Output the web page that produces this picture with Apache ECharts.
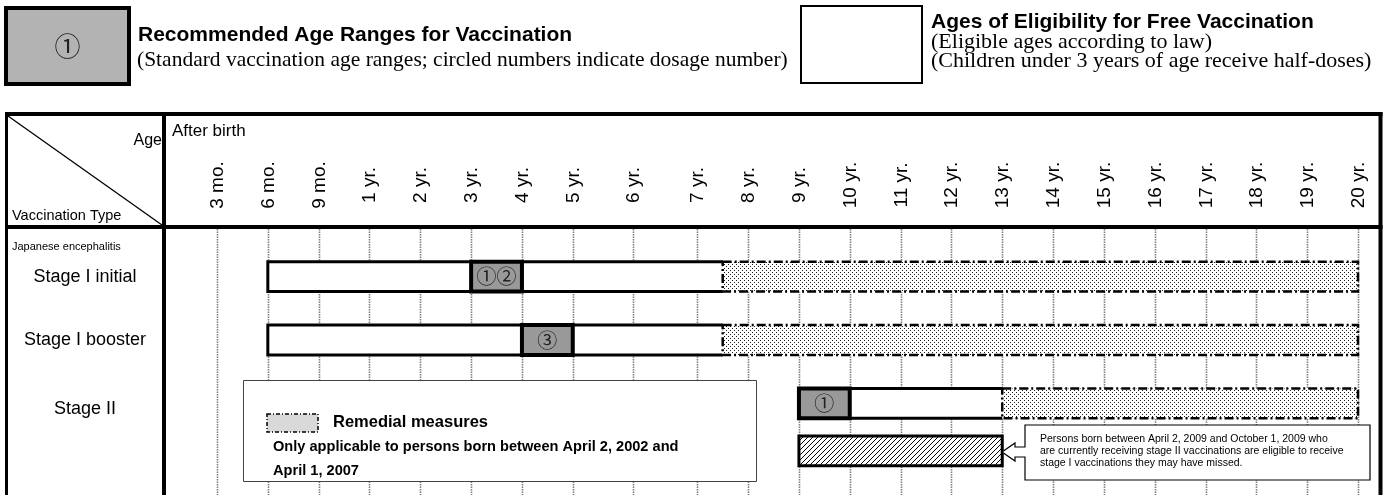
<!DOCTYPE html>
<html><head><meta charset="utf-8">
<script src="https://cdn.jsdelivr.net/npm/echarts@6/dist/echarts.min.js"></script>
<style>html,body{margin:0;padding:0;background:#fff}#c{width:1389px;height:495px}</style>
</head><body><div id="c"></div>
<script>
// ---------------- data ----------------
const ageLabels = ['3 mo.','6 mo.','9 mo.','1 yr.','2 yr.','3 yr.','4 yr.','5 yr.','6 yr.','7 yr.','8 yr.','9 yr.','10 yr.','11 yr.','12 yr.','13 yr.','14 yr.','15 yr.','16 yr.','17 yr.','18 yr.','19 yr.','20 yr.'];
const ageMonths = [3,6,9,12,24,36,48,60,72,84,96,108,120,132,144,156,168,180,192,204,216,228,240];
const rowNames = ['Stage I initial','Stage I booster','Stage II'];

// Ages of eligibility (months)
const eligibleRow  = ['Stage I initial','Stage I booster','Stage II'];
const eligibleFrom = [6, 6, 108];
const eligibleTo   = [90, 90, 156];
// Recommended age ranges (months) with dose numbers
const recommendedRow  = ['Stage I initial','Stage I booster','Stage II'];
const recommendedFrom = [36, 48, 108];
const recommendedTo   = [48, 60, 120];
const recommendedDose = ['①②','③','①'];
// Remedial measures (months)
const remedialRow  = ['Stage I initial','Stage I booster','Stage II'];
const remedialFrom = [90, 90, 156];
const remedialTo   = [240, 240, 240];
// Catch-up of stage I doses during stage II (months)
const catchUpRow  = ['Stage II'];
const catchUpFrom = [108];
const catchUpTo   = [156];

// ---------------- layout (axis scale) ----------------
// relative spacing between consecutive age ticks of the original table
const tickGap = [1,1,1,1,1,1,1,1.18,1.27,1,1,1,1,1,1,1,1,1,1,1,1,1];
const tickSlot = [0];
tickGap.forEach((g, i) => tickSlot.push(tickSlot[i] + g));
function slotOf(m) {
  for (let i = 0; i < ageMonths.length - 1; i++) {
    if (m <= ageMonths[i + 1]) {
      const t = (m - ageMonths[i]) / (ageMonths[i + 1] - ageMonths[i]);
      return tickSlot[i] + t * (tickSlot[i + 1] - tickSlot[i]);
    }
  }
  return tickSlot[tickSlot.length - 1];
}
const BAR_RATIO = 0.47;
const CATCHUP_SHIFT = 0.75;

function makeDots() {
  const c = document.createElement('canvas'); c.width = 4; c.height = 4;
  const g = c.getContext('2d');
  g.fillStyle = '#fff'; g.fillRect(0, 0, 4, 4);
  g.fillStyle = '#1a1a1a'; g.fillRect(0, 0, 1, 1); g.fillRect(2, 2, 1, 1);
  return c;
}
function makeHatch() {
  const s = 5;
  const c = document.createElement('canvas'); c.width = s; c.height = s;
  const g = c.getContext('2d');
  g.fillStyle = '#fff'; g.fillRect(0, 0, s, s);
  g.strokeStyle = '#000'; g.lineWidth = 1;
  g.beginPath();
  g.moveTo(-1, s + 1); g.lineTo(s + 1, -1);
  g.moveTo(-1, 1); g.lineTo(1, -1);
  g.moveTo(s - 1, s + 1); g.lineTo(s + 1, s - 1);
  g.stroke();
  return c;
}
const dotPattern = { image: makeDots(), repeat: 'repeat' };
const hatchPattern = { image: makeHatch(), repeat: 'repeat' };

function span(api, from, to, rowIdx, shift) {
  const band = api.size([0, 1])[1];
  const a = api.coord([slotOf(from), rowIdx]);
  const b = api.coord([slotOf(to), rowIdx]);
  const h = band * BAR_RATIO;
  const cy = a[1] + (shift || 0) * band;
  return { x: a[0], y: cy - h / 2, w: b[0] - a[0], h: h, cy: cy };
}

const SANS = '"Liberation Sans", Arial, sans-serif';
const SERIF = '"Liberation Serif", "Times New Roman", serif';
const CJK = '"Noto Sans CJK JP", sans-serif';

const chart = echarts.init(document.getElementById('c'), null, { renderer: 'canvas' });

function txt(text, x, y, font, align, extra, fill) {
  return Object.assign({
    type: 'text', x: x, y: y, z: 100, silent: true,
    style: { text: text, font: font, fill: fill || '#000', align: align || 'left', verticalAlign: 'middle',
             textAlign: align || 'left', textVerticalAlign: 'middle' }
  }, extra || {});
}
function ln(x1, y1, x2, y2, w, extra) {
  return Object.assign({ type: 'line', z: 100, silent: true, shape: { x1, y1, x2, y2 },
    style: { stroke: '#000', lineWidth: w } }, extra || {});
}

const option = {
  animation: false,
  backgroundColor: '#fff',
  grid: { left: 217, right: 31, top: 245, height: 190 },
  xAxis: { type: 'value', min: 0, max: tickSlot[tickSlot.length - 1], show: false },
  yAxis: {
    type: 'category', inverse: true, data: rowNames,
    axisLine: { show: false }, axisTick: { show: false }, splitLine: { show: false },
    axisLabel: {
      margin: 132, align: 'center', color: '#000', fontSize: 18, fontFamily: SANS,
      formatter: v => v === 'Stage II' ? '{two|' + v + '}' : v,
      rich: { two: { fontSize: 18, fontFamily: SANS, color: '#000', padding: [12, 0, 0, 0] } }
    }
  },
  graphic: { elements: [
    // legend
    { type: 'rect', z: 100, silent: true, shape: { x: 6, y: 8, width: 123, height: 76 },
      style: { fill: '#b3b3b3', stroke: '#000', lineWidth: 4 } },
    txt('①', 67.5, 46, '26px ' + CJK, 'center', null, '#222'),
    txt('Recommended Age Ranges for Vaccination', 138, 35, 'bold 21px ' + SANS),
    txt('(Standard vaccination age ranges; circled numbers indicate dosage number)', 137, 60, '21.5px ' + SERIF),
    { type: 'rect', z: 100, silent: true, shape: { x: 801, y: 6, width: 121, height: 77 },
      style: { fill: '#fff', stroke: '#000', lineWidth: 2 } },
    txt('Ages of Eligibility for Free Vaccination', 931, 22, 'bold 21px ' + SANS),
    txt('(Eligible ages according to law)', 931, 42, '22px ' + SERIF),
    txt('(Children under 3 years of age receive half-doses)', 931, 61, '22px ' + SERIF),
    // table frame
    ln(5, 114, 1382.5, 114, 4),
    ln(5, 227, 1382.5, 227, 4),
    ln(6.5, 112, 6.5, 495, 3),
    ln(164, 112, 164, 495, 4),
    ln(1380.5, 112, 1380.5, 495, 4),
    ln(8, 116, 162, 225, 1.3),
    txt('Age', 162, 141, '16px ' + SANS, 'right'),
    txt('Vaccination Type', 12, 216, '14.5px ' + SANS),
    txt('After birth', 172, 131, '17px ' + SANS),
    txt('Japanese encephalitis', 12, 247, '11px ' + SANS),
    // remedial measures note
    { type: 'rect', z: 100, silent: true, shape: { x: 243.5, y: 380.5, width: 513, height: 101 },
      style: { fill: '#fff', stroke: '#444', lineWidth: 1 } },
    { type: 'rect', z: 101, silent: true, shape: { x: 267, y: 414, width: 51, height: 18 },
      style: { fill: '#d9d9d9', stroke: '#000', lineWidth: 1.5, lineDash: [4, 2, 1, 2] } },
    txt('Remedial measures', 333, 422, 'bold 16.5px ' + SANS, 'left', { z: 101 }),
    txt('Only applicable to persons born between April 2, 2002 and', 273, 447, 'bold 14.6px ' + SANS, 'left', { z: 101 }),
    txt('April 1, 2007', 273, 471, 'bold 14.6px ' + SANS, 'left', { z: 101 }),
    // callout
    { type: 'polygon', z: 100, silent: true,
      shape: { points: [[1025,425],[1370,425],[1370,480],[1025,480],[1025,457],[1015,457],[1015,461],[1002,452],[1015,443],[1015,447],[1025,447]] },
      style: { fill: '#fff', stroke: '#000', lineWidth: 1.2 } },
    txt('Persons born between April 2, 2009 and October 1, 2009 who', 1040, 439, '10.5px ' + SANS, 'left', { z: 101 }),
    txt('are currently receiving stage II vaccinations are eligible to receive', 1040, 451, '10.5px ' + SANS, 'left', { z: 101 }),
    txt('stage I vaccinations they may have missed.', 1040, 463, '10.5px ' + SANS, 'left', { z: 101 })
  ] },
  series: [
    { // age ticks: dotted grid lines and rotated labels
      type: 'custom', silent: true,
      data: ageMonths.map(m => [m, 0]),
      encode: { x: 0, y: 1 },
      renderItem: (params, api) => {
        const i = params.dataIndex;
        const x = Math.round(api.coord([slotOf(ageMonths[i]), 0])[0]) + 0.5;
        return { type: 'group', children: [
          { type: 'line', shape: { x1: x, y1: 229, x2: x, y2: 495 },
            style: { stroke: '#7f7f7f', lineWidth: 1.6, lineDash: [1.5, 1] } },
          { type: 'text', x: x, y: 185, rotation: Math.PI / 2,
            style: { text: ageLabels[i], font: '19px ' + SANS, fill: '#000',
                     align: 'center', verticalAlign: 'middle' } }
        ] };
      }
    },
    { // ages of eligibility: white bars
      type: 'custom', silent: true,
      data: eligibleFrom.map((f, i) => [f, eligibleTo[i], rowNames.indexOf(eligibleRow[i])]),
      encode: { x: [0, 1], y: 2 },
      renderItem: (params, api) => {
        const i = params.dataIndex;
        const r = span(api, eligibleFrom[i], eligibleTo[i], rowNames.indexOf(eligibleRow[i]));
        return { type: 'group', children: [
          { type: 'rect', shape: { x: r.x, y: r.y, width: r.w, height: r.h }, style: { fill: '#fff' } },
          { type: 'polyline', shape: { points: [[r.x + r.w, r.y], [r.x, r.y], [r.x, r.y + r.h], [r.x + r.w, r.y + r.h]] },
            style: { stroke: '#000', lineWidth: 3, fill: null } }
        ] };
      }
    },
    { // remedial measures: dotted bars
      type: 'custom', silent: true,
      data: remedialFrom.map((f, i) => [f, remedialTo[i], rowNames.indexOf(remedialRow[i])]),
      encode: { x: [0, 1], y: 2 },
      renderItem: (params, api) => {
        const i = params.dataIndex;
        const r = span(api, remedialFrom[i], remedialTo[i], rowNames.indexOf(remedialRow[i]));
        return { type: 'rect', shape: { x: r.x, y: r.y, width: r.w, height: r.h },
          style: { fill: dotPattern, stroke: '#000', lineWidth: 2.5, lineDash: [9, 3, 2, 3] } };
      }
    },
    { // recommended ranges: gray boxes with dose numbers
      type: 'custom', silent: true,
      data: recommendedFrom.map((f, i) => [f, recommendedTo[i], rowNames.indexOf(recommendedRow[i])]),
      encode: { x: [0, 1], y: 2 },
      renderItem: (params, api) => {
        const i = params.dataIndex;
        const r = span(api, recommendedFrom[i], recommendedTo[i], rowNames.indexOf(recommendedRow[i]));
        return { type: 'group', children: [
          { type: 'rect', shape: { x: r.x, y: r.y, width: r.w, height: r.h },
            style: { fill: '#999999', stroke: '#000', lineWidth: 4 } },
          { type: 'text', x: r.x + r.w / 2, y: r.cy,
            style: { text: recommendedDose[i], font: '20px ' + CJK, fill: '#222', align: 'center', verticalAlign: 'middle' } }
        ] };
      }
    },
    { // stage I catch-up during stage II: hatched bar
      type: 'custom', silent: true,
      data: catchUpFrom.map((f, i) => [f, catchUpTo[i], rowNames.indexOf(catchUpRow[i])]),
      encode: { x: [0, 1], y: 2 },
      renderItem: (params, api) => {
        const i = params.dataIndex;
        const r = span(api, catchUpFrom[i], catchUpTo[i], rowNames.indexOf(catchUpRow[i]), CATCHUP_SHIFT);
        return { type: 'rect', shape: { x: r.x, y: r.y, width: r.w, height: r.h },
          style: { fill: hatchPattern, stroke: '#000', lineWidth: 3 } };
      }
    }
  ]
};
chart.setOption(option);
</script></body></html>
